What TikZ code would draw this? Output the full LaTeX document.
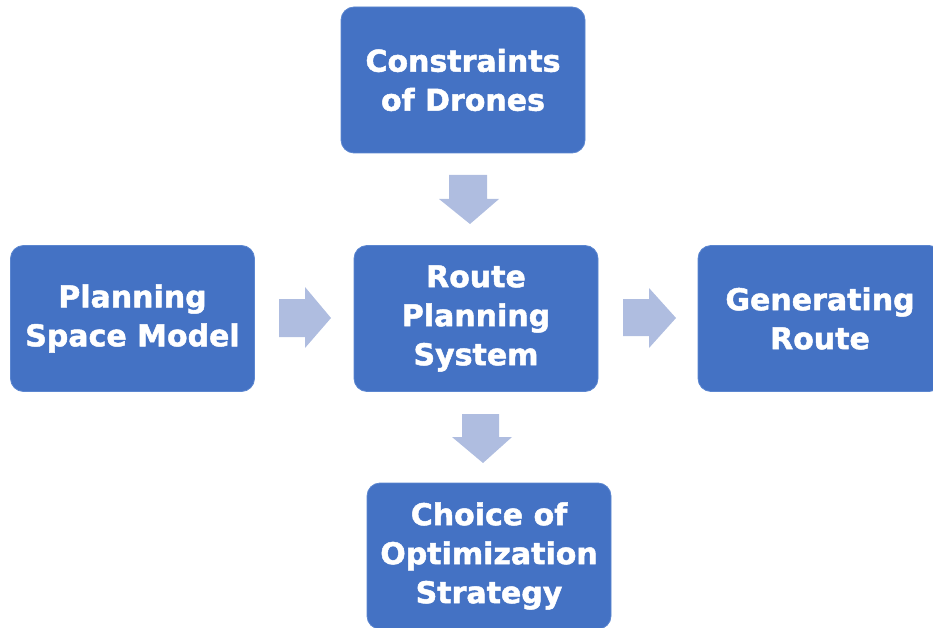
\documentclass[tikz,border=0pt]{standalone}
\usepackage{fontspec}
\setmainfont{DejaVu Sans}
\newfontfamily\stagefont[BoldFont={DejaVu Sans Bold},BoldFeatures={FakeBold=1.6}]{DejaVu Sans}
\usetikzlibrary{positioning}
\definecolor{boxblue}{HTML}{4472C4}
\definecolor{boxedge}{HTML}{5B86D0}
\definecolor{arrowblue}{HTML}{AFBDE0}
\begin{document}
\begin{tikzpicture}[x=1pt,y=-1pt,
  stagebox/.style={rectangle, rounded corners=13pt, fill=boxblue, draw=boxedge,
    line width=0.8pt, minimum width=244pt, minimum height=146pt, inner sep=0pt,
    text=white, align=center,
    font=\stagefont\fontsize{30pt}{39pt}\selectfont\bfseries},
  blockarrow/.style={fill=arrowblue, draw=none}]
\useasboundingbox (0,0) rectangle (933,628);

% process stages
\node[stagebox] (cons)   at (463,80)    {Constraints\\of Drones};
\node[stagebox] (space)  at (132.5,318.5) {Planning\\Space Model};
\node[stagebox] (route)  at (476,318.5) {Route\\Planning\\System};
\node[stagebox] (gen)    at (820,318.5) {Generating\\Route};
\node[stagebox] (choice) at (489,556)   {Choice of\\Optimization\\Strategy};

% block arrows between the stages
\fill[blockarrow] (449,175) -- (487,175) -- (487,199) -- (499,199) -- (470,224)
  -- (439,199) -- (449,199) -- cycle;
\fill[blockarrow] (279,299) -- (305,299) -- (305,287) -- (331,318) -- (305,348)
  -- (305,337) -- (279,337) -- cycle;
\fill[blockarrow] (623,299) -- (649,299) -- (649,288) -- (676,318) -- (649,348)
  -- (649,336) -- (623,336) -- cycle;
\fill[blockarrow] (462,414) -- (499,414) -- (499,437) -- (512,437) -- (483,463)
  -- (452,437) -- (462,437) -- cycle;
\end{tikzpicture}
\end{document}
